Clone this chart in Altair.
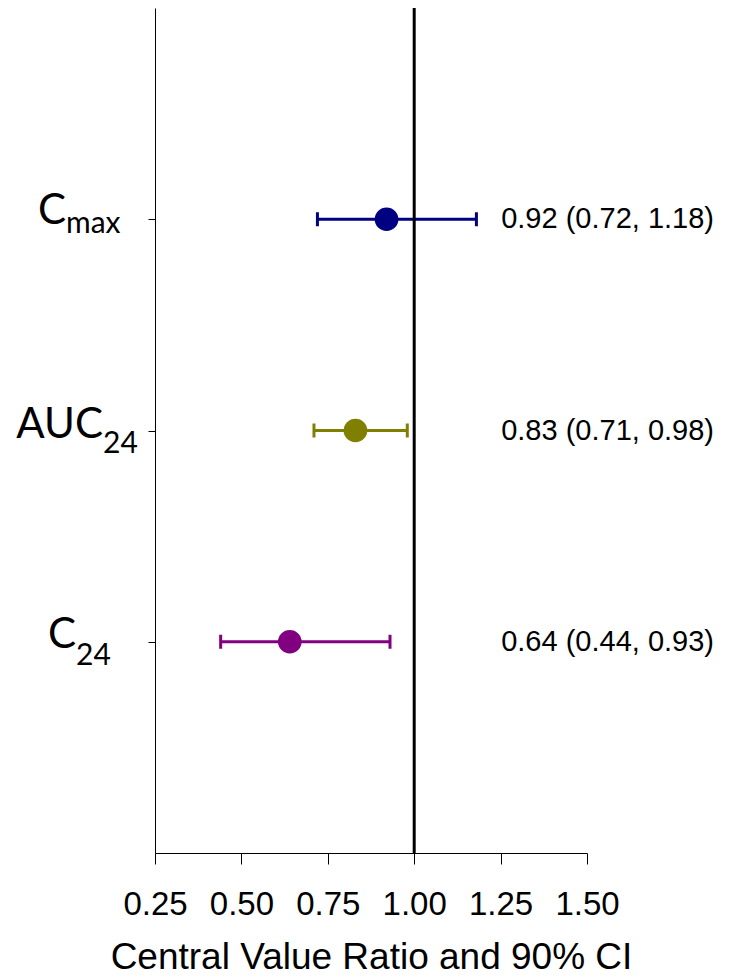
import altair as alt
import pandas as pd

params = ["Cmax", "AUC24", "C24"]
label_main = ["C", "AUC", "C"]
label_sub = ["max", "24", "24"]
central = [0.92, 0.83, 0.64]
lower = [0.72, 0.71, 0.44]
upper = [1.18, 0.98, 0.93]
colors = ["#000080", "#808000", "#800080"]
x_ticks = [0.25, 0.50, 0.75, 1.00, 1.25, 1.50]

df = pd.DataFrame({
    "param": params,
    "main": label_main,
    "sub": label_sub,
    "central": central,
    "lower": lower,
    "upper": upper,
})
df["text"] = [f"{c:.2f} ({l:.2f}, {u:.2f})" for c, l, u in zip(central, lower, upper)]

W, H = 432, 845
FONT = "Liberation Sans"
LABEL_FONT = "Lato"

ysc = alt.Scale(type="point", padding=1, domain=params)
xsc = alt.Scale(domain=[0.25, 1.5], nice=False, zero=False)
color = alt.Color("param:N", scale=alt.Scale(domain=params, range=colors), legend=None)

x_axis = alt.Axis(values=x_ticks, format=".2f", title="Central Value Ratio and 90% CI",
                  labelFont=FONT, labelFontSize=33, labelColor="black",
                  titleFont=FONT, titleFontSize=37, titleFontWeight="normal",
                  titleColor="black", labelPadding=24, titlePadding=18,
                  tickSize=11, tickColor="black", domainColor="black",
                  grid=False, labelFlush=False)
y_axis = alt.Axis(labels=False, title=None, ticks=True, tickSize=7,
                  domainColor="black", tickColor="black", grid=False,
                  domainWidth=1, tickWidth=1)


def X(field):
    return alt.X(field, scale=xsc, axis=x_axis, title="Central Value Ratio and 90% CI")


Y = alt.Y("param:N", sort=params, scale=ysc, axis=y_axis)

base = alt.Chart(df)

rules = base.mark_rule(strokeWidth=3, opacity=1).encode(
    x=X("lower:Q"), x2="upper:Q", y=Y, color=color,
)
cap_lo = base.mark_tick(thickness=3, size=14, opacity=1).encode(x=X("lower:Q"), y=Y, color=color)
cap_hi = base.mark_tick(thickness=3, size=14, opacity=1).encode(x=X("upper:Q"), y=Y, color=color)

ref = alt.Chart(pd.DataFrame({"v": [1.0]})).mark_rule(color="black", strokeWidth=3).encode(
    x=X("v:Q")
)

points = base.mark_circle(size=560, opacity=1).encode(x=X("central:Q"), y=Y, color=color)

ann = base.mark_text(align="right", baseline="middle", font=FONT, fontSize=29, color="black").encode(
    x=alt.value(559), y=Y, text="text:N"
)

# label styling per row: (split x offset in px from plot left, main dy, subscript dy)
label_style = {"Cmax": (-89, 5, 14), "AUC24": (-52, 7, 22), "C24": (-79, 6, 23)}
label_layers = []
for p in params:
    sx, mdy, sdy = label_style[p]
    sub_df = base.transform_filter(alt.datum.param == p)
    label_layers.append(sub_df.mark_text(align="right", baseline="alphabetic", dy=mdy, font=LABEL_FONT,
                                         fontSize=42, color="black").encode(
        x=alt.value(sx), y=Y, text="main:N"))
    label_layers.append(sub_df.mark_text(align="left", baseline="alphabetic", dy=sdy, font=LABEL_FONT,
                                         fontSize=30, color="black").encode(
        x=alt.value(sx), y=Y, text="sub:N"))

chart = alt.layer(rules, ref, cap_lo, cap_hi, points, ann, *label_layers).properties(
    width=W, height=H,
    background="white",
    autosize=alt.AutoSizeParams(type="none"),
    padding={"left": 155, "top": 8, "right": 144, "bottom": 124},
).configure_view(stroke=None)

chart.save("out.html", embed_options={"renderer": "svg", "actions": False})
